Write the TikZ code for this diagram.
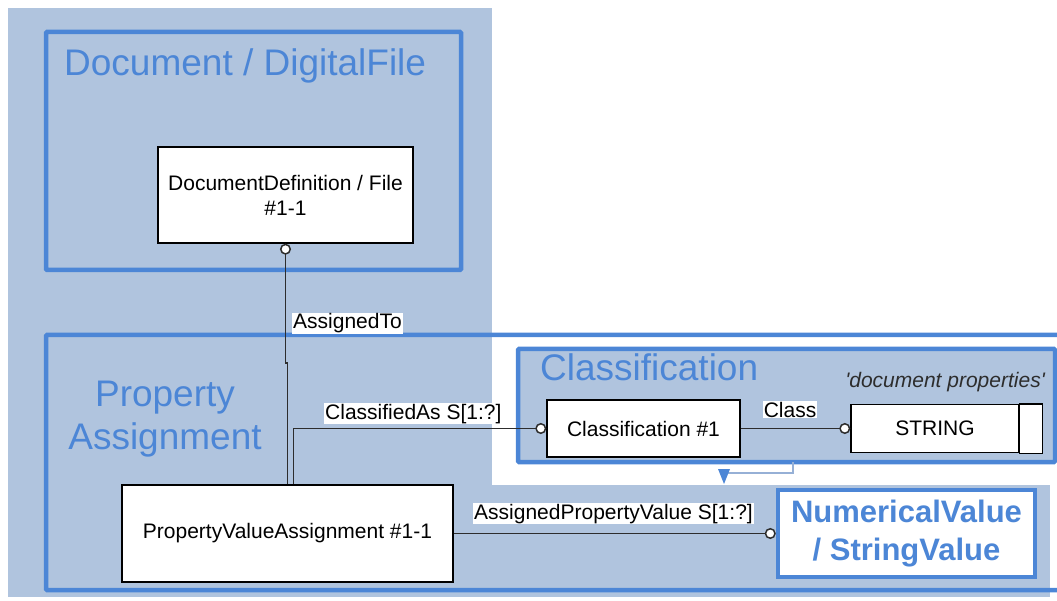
\documentclass[tikz,border=0pt]{standalone}
\usepackage{fontspec}
\setmainfont{Liberation Sans}
\usetikzlibrary{arrows.meta}
\definecolor{panelgray}{RGB}{176,196,222}
\definecolor{frameblue}{RGB}{76,134,214}
\definecolor{linkgray}{RGB}{45,45,45}
\definecolor{stubblue}{RGB}{150,176,214}

\begin{document}
\begin{tikzpicture}[x=1pt,y=-1pt,
  frame/.style={draw=frameblue, line width=4.5pt, rounded corners=1pt},
  title/.style={text=frameblue, font=\fontsize{37}{43}\selectfont, inner sep=0pt},
  entity/.style={draw=black, fill=white, line width=1.4pt, font=\fontsize{21}{25}\selectfont, inner sep=0pt, align=center},
  link/.style={draw=linkgray, line width=1.5pt, -{Circle[fill=white, length=11pt]}},
  lbl/.style={fill=white, inner sep=1pt, font=\fontsize{21}{25}\selectfont}]
\useasboundingbox (0,0) rectangle (1057,601);
\fill[panelgray] (8,8) rectangle (492,597);
\fill[panelgray] (492,485) rectangle (1050,597);
\draw[frame] (46,32) rectangle (461,270);
\draw[frame] (46,335) rectangle (1075,590);
\draw[frame, fill=panelgray] (518,349) rectangle (1055,462);

\node[title, anchor=base west] (doctitle) at (64,76) {Document / DigitalFile};
\node[title, align=center] (patitle) at (165,419) {Property\\Assignment};
\node[title, anchor=base west] (clstitle) at (540,380) {Classification};
\node[font=\fontsize{21}{25}\selectfont\itshape, text=linkgray, anchor=base east, inner sep=0pt] (clsnote) at (1045,388) {\textquotesingle document properties\textquotesingle};

\node[entity, minimum width=255pt, minimum height=96pt] (docdef) at (285.5,195) {DocumentDefinition / File\\\#1-1};
\node[entity, minimum width=331pt, minimum height=97pt] (pva) at (287.5,533.5) {PropertyValueAssignment \#1-1};
\node[entity, minimum width=193pt, minimum height=57pt] (cls1) at (643.5,428.5) {Classification \#1};
\node[entity, minimum width=168pt, minimum height=48pt] (strng) at (935,428.5) {STRING};
\draw[line width=1.4pt, fill=white] (strng.north east) rectangle ([xshift=23pt]strng.south east);
\node[draw=frameblue, line width=4.5pt, fill=white, minimum width=257pt, minimum height=87pt,
  text=frameblue, font=\fontsize{31}{38}\selectfont\bfseries, align=center, inner sep=0pt] (nv) at (906.5,533.5) {NumericalValue\\/ StringValue};

\coordinate (jog) at (0,363);
\draw[link] (pva.north) -- (pva.north |- jog) -- (docdef.south |- jog) -- (docdef.south);
\draw[link] ([xshift=6pt]pva.north) |- (cls1.west);
\draw[link] (cls1.east) -- (strng.west);
\draw[link] (pva.east) -- (nv.west);

\node[lbl, anchor=base west] (lblto) at (292,329) {AssignedTo};
\node[lbl, anchor=base west] (lblas) at (324,419) {ClassifiedAs S[1:?]};
\node[lbl, anchor=base] (lblclass) at (790,417) {Class};
\node[lbl, anchor=base west] (lblapv) at (473,519) {AssignedPropertyValue S[1:?]};

\draw[stubblue, line width=2pt] (793,462) |- (724,473);
\fill[frameblue] (718,469) -- (730,469) -- (724,484) -- cycle;
\end{tikzpicture}
\end{document}
